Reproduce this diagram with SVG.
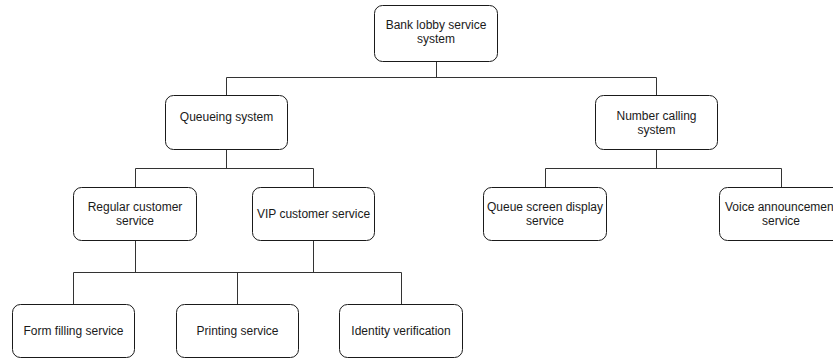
<svg xmlns="http://www.w3.org/2000/svg" width="833" height="361" viewBox="0 0 833 361">
<style>
.box{fill:#fff;stroke:#1a1a1a;stroke-width:1}
.t{font-family:"Liberation Sans",Arial,sans-serif;font-size:12px;fill:#1a1a1a;text-anchor:middle}
.c{fill:none;stroke:#333;stroke-width:1}
</style>
<rect width="833" height="361" fill="#fff"/>
<g id="connectors">
<path class="c" d="M436.5 62V77.5M226.5 77.5H656.5M226.5 77.5V95M656.5 77.5V95"/>
<path class="c" d="M226.5 150V168.5M135.5 168.5H313.5M135.5 168.5V187M313.5 168.5V187"/>
<path class="c" d="M656.5 150V168.5M545.5 168.5H781.5M545.5 168.5V187M781.5 168.5V187"/>
<path class="c" d="M135.5 241V272.5M313.5 241V272.5M73.5 272.5H401.5M73.5 272.5V304M237.5 272.5V304M401.5 272.5V304"/>
</g>
<g id="root"><rect class="box" x="374.5" y="5.5" width="123" height="56" rx="8"/><text class="t" x="436" y="29">Bank lobby service</text><text class="t" x="436" y="43">system</text></g>
<g id="queueing"><rect class="box" x="165.5" y="95.5" width="122" height="54" rx="8"/><text class="t" x="226.5" y="121">Queueing system</text></g>
<g id="numbercalling"><rect class="box" x="595.5" y="95.5" width="122" height="54" rx="8"/><text class="t" x="656.5" y="119.5">Number calling</text><text class="t" x="656.5" y="133.5">system</text></g>
<g id="regular"><rect class="box" x="73.5" y="187.5" width="123" height="53" rx="8"/><text class="t" x="135" y="211">Regular customer</text><text class="t" x="135" y="225">service</text></g>
<g id="vip"><rect class="box" x="252.5" y="187.5" width="122" height="53" rx="8"/><text class="t" x="313.5" y="217.5">VIP customer service</text></g>
<g id="queuescreen"><rect class="box" x="483.5" y="187.5" width="123" height="53" rx="8"/><text class="t" x="545" y="211">Queue screen display</text><text class="t" x="545" y="225">service</text></g>
<g id="voice"><rect class="box" x="719.5" y="187.5" width="123" height="53" rx="8"/><text class="t" x="781" y="211">Voice announcement</text><text class="t" x="781" y="225">service</text></g>
<g id="form"><rect class="box" x="12.5" y="304.5" width="122" height="53" rx="8"/><text class="t" x="73.5" y="334.5">Form filling service</text></g>
<g id="printing"><rect class="box" x="176.5" y="304.5" width="122" height="53" rx="8"/><text class="t" x="237.5" y="334.5">Printing service</text></g>
<g id="identity"><rect class="box" x="339.5" y="304.5" width="123" height="53" rx="8"/><text class="t" x="401" y="334.5">Identity verification</text></g>
</svg>
